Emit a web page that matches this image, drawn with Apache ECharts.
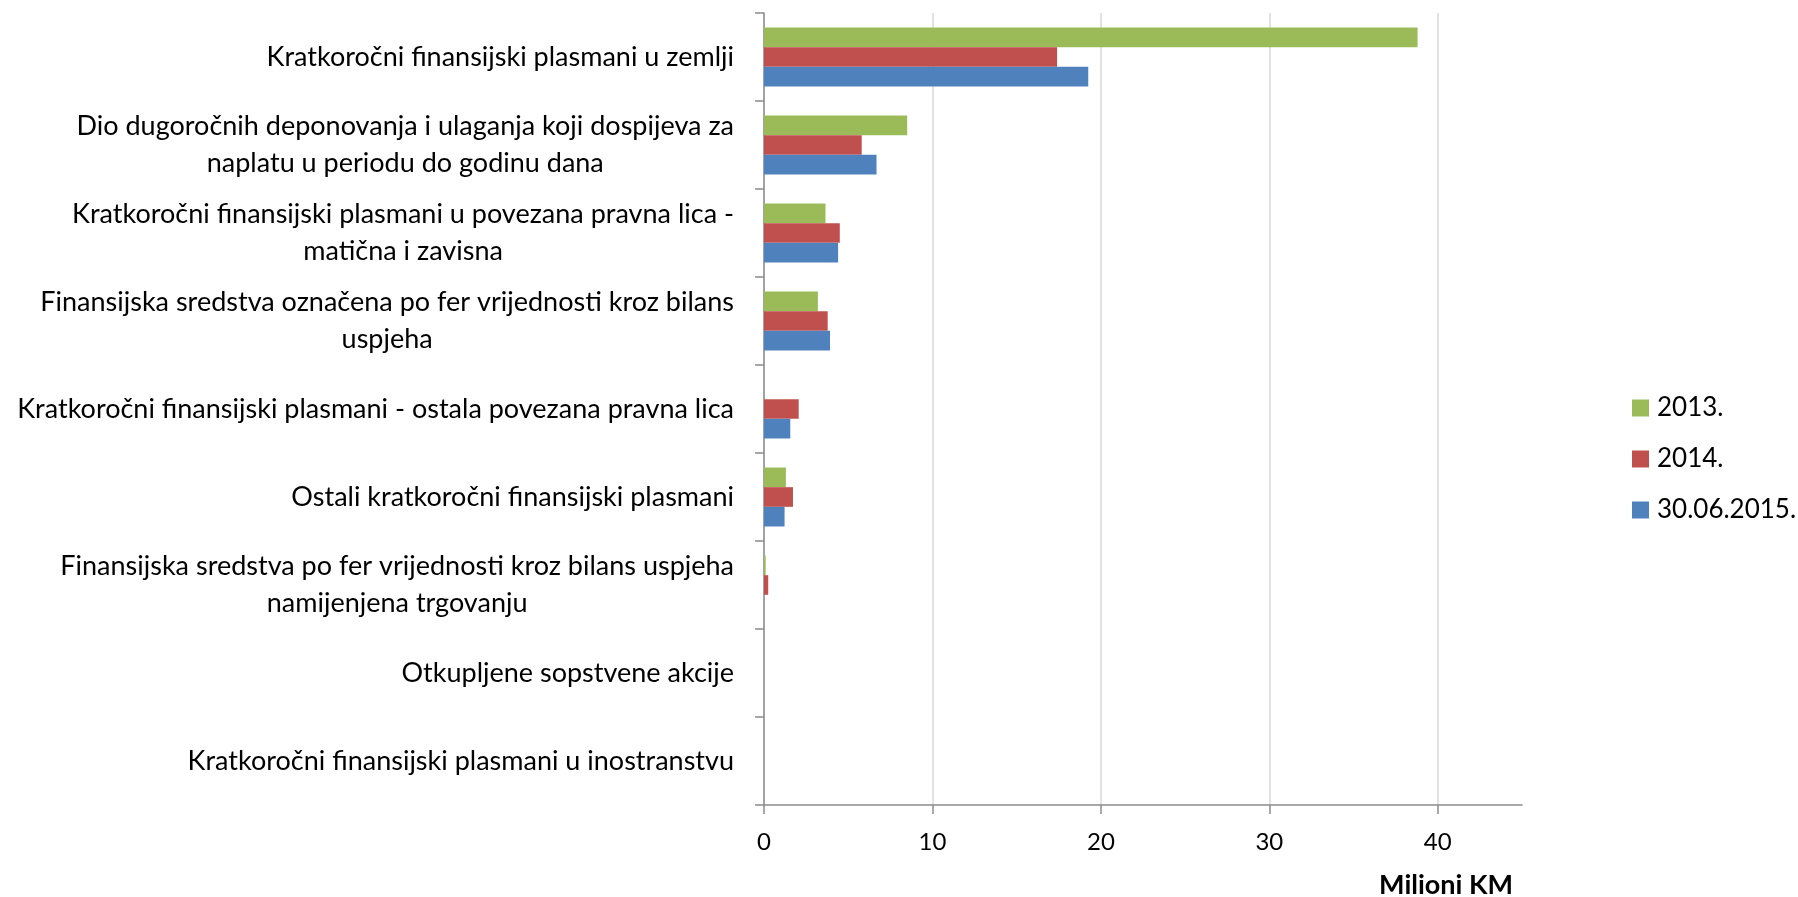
<!DOCTYPE html>
<html>
<head>
<meta charset="utf-8">
<script src="https://cdn.jsdelivr.net/npm/echarts@6/dist/echarts.min.js"></script>
<style>
html,body{margin:0;padding:0;background:#fff;}
#chart{width:1798px;height:897px;}
</style>
</head>
<body>
<div id="chart"></div>
<script>
const categories = [
  "Kratkoročni finansijski plasmani u zemlji",
  "Dio dugoročnih deponovanja i ulaganja koji dospijeva za\nnaplatu u periodu do godinu dana",
  "Kratkoročni finansijski plasmani u povezana pravna lica -\nmatična i zavisna",
  "Finansijska sredstva označena po fer vrijednosti kroz bilans\nuspjeha",
  "Kratkoročni finansijski plasmani - ostala povezana pravna lica",
  "Ostali kratkoročni finansijski plasmani",
  "Finansijska sredstva po fer vrijednosti kroz bilans uspjeha\nnamijenjena trgovanju",
  "Otkupljene sopstvene akcije",
  "Kratkoročni finansijski plasmani u inostranstvu"
];
const seriesNames = ["2013.", "2014.", "30.06.2015."];
const values2013 = [38.8, 8.5, 3.65, 3.2, 0, 1.3, 0.1, 0, 0];
const values2014 = [17.4, 5.8, 4.5, 3.78, 2.06, 1.72, 0.25, 0, 0];
const values2015 = [19.25, 6.68, 4.4, 3.92, 1.56, 1.22, 0, 0, 0];
const xTicks = [0, 10, 20, 30, 40];
const axisTitle = "Milioni KM";

const FONT = "Lato, 'Liberation Sans', sans-serif";
const chart = echarts.init(document.getElementById('chart'), null, {renderer: 'canvas'});
chart.setOption({
  animation: false,
  backgroundColor: '#ffffff',
  textStyle: {fontFamily: FONT, color: '#000'},
  title: {
    text: axisTitle,
    right: 285,
    top: 872,
    padding: 0,
    textStyle: {fontFamily: FONT, fontSize: 27, fontWeight: 'bold', color: '#000'}
  },
  legend: {
    orient: 'vertical',
    left: 1632,
    top: 395,
    padding: 0,
    itemWidth: 17,
    itemHeight: 17,
    itemGap: 25,
    icon: 'rect',
    data: seriesNames,
    textStyle: {fontFamily: FONT, fontSize: 26, color: '#000', lineHeight: 26, padding: [0, 0, 0, 3]}
  },
  grid: {left: 764, right: 276, top: 13, bottom: 92, containLabel: false},
  xAxis: {
    type: 'value',
    min: 0,
    max: 45,
    interval: 10,
    axisLine: {show: true, lineStyle: {color: '#8c8c8c', width: 1.5}},
    axisTick: {show: true, length: 9, lineStyle: {color: '#8c8c8c', width: 1.5}},
    axisLabel: {
      fontFamily: FONT, fontSize: 24, color: '#000', margin: 25,
      showMaxLabel: false,
      formatter: function (v) { return xTicks.indexOf(v) >= 0 ? String(v) : ''; }
    },
    splitLine: {show: true, showMaxLine: false, lineStyle: {color: '#d9d9d9', width: 1.5}}
  },
  yAxis: {
    type: 'category',
    inverse: true,
    data: categories,
    axisLine: {show: true, lineStyle: {color: '#8c8c8c', width: 1.5}},
    axisTick: {show: true, length: 9, lineStyle: {color: '#8c8c8c', width: 1.5}},
    axisLabel: {
      margin: 30,
      fontFamily: FONT, fontSize: 27, color: '#000', lineHeight: 37,
      formatter: function (v) {
        return v.split('\n').map(function (l) { return '{a|' + l + '}'; }).join('\n');
      },
      rich: {a: {align: 'center', fontFamily: FONT, fontSize: 27, lineHeight: 37, color: '#000'}}
    },
    splitLine: {show: false}
  },
  series: [
    {name: seriesNames[0], type: 'bar', data: values2013, barGap: '0%', barCategoryGap: '33%',
     itemStyle: {color: '#9BBB59'}},
    {name: seriesNames[1], type: 'bar', data: values2014, barGap: '0%', barCategoryGap: '33%',
     itemStyle: {color: '#C0504D'}},
    {name: seriesNames[2], type: 'bar', data: values2015, barGap: '0%', barCategoryGap: '33%',
     itemStyle: {color: '#4F81BD'}}
  ]
});
</script>
</body>
</html>
